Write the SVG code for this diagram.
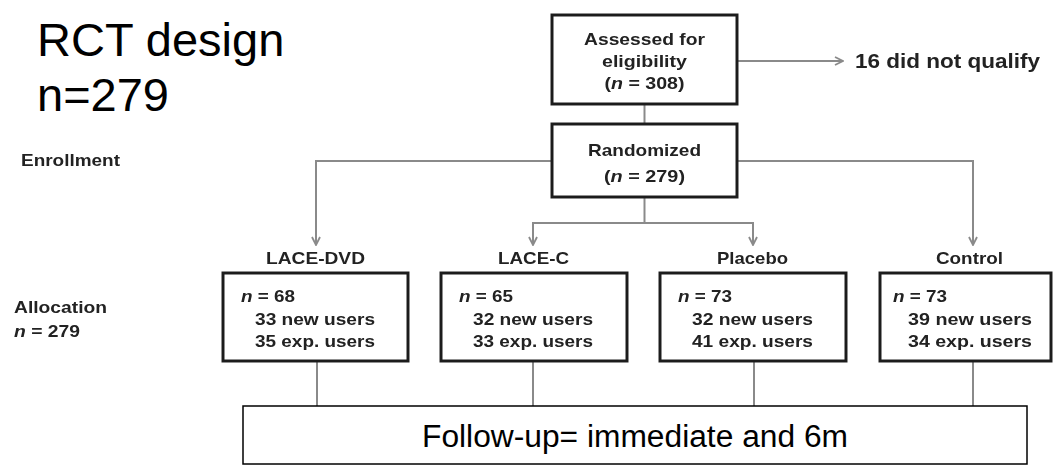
<svg xmlns="http://www.w3.org/2000/svg" width="1055" height="466" viewBox="0 0 1055 466">
  <style>
    .title { font-family: "Liberation Sans", Arial, sans-serif; font-size: 47px; fill: #000; }
    .lbl { font-family: "Liberation Sans", Arial, sans-serif; font-weight: bold; font-size: 17px; fill: #222; }
    .box { fill: #fff; stroke: #1e1e1e; stroke-width: 3; }
    .wire { fill: none; stroke: #8a8a8a; stroke-width: 2; }
    .fu-box { fill: #fff; stroke: #000; stroke-width: 1.5; }
    .fu-text { font-family: "Liberation Sans", Arial, sans-serif; font-size: 31px; fill: #000; }
    .it { font-style: italic; }
    .soft { filter: url(#soft); }
  </style>
  <defs>
    <marker id="chev" viewBox="0 0 10 10" refX="9" refY="5" markerWidth="10" markerHeight="10" markerUnits="userSpaceOnUse" orient="auto">
      <path d="M1,1 L9,5 L1,9" fill="none" stroke="#8a8a8a" stroke-width="1.8"/>
    </marker>
    <!-- the flow chart is a slightly soft scan -->
    <filter id="soft" x="-5%" y="-5%" width="110%" height="110%">
      <feGaussianBlur stdDeviation="0.45"/>
    </filter>
  </defs>

  <rect width="1055" height="466" fill="#fff"/>

  <!-- heading -->
  <g id="heading">
    <text class="title" x="37" y="56">RCT design</text>
    <text class="title" x="37" y="111">n=279</text>
  </g>

  <!-- stage labels -->
  <g id="stage-labels" class="soft">
    <text class="lbl" x="21" y="166" textLength="99" lengthAdjust="spacingAndGlyphs">Enrollment</text>
    <text class="lbl" x="14" y="313" textLength="93" lengthAdjust="spacingAndGlyphs">Allocation</text>
    <text class="lbl" x="14" y="337" textLength="66" lengthAdjust="spacingAndGlyphs"><tspan class="it">n</tspan> = 279</text>
  </g>

  <!-- connectors -->
  <g id="connectors" class="soft">
    <line class="wire" x1="737" y1="61" x2="843" y2="61" marker-end="url(#chev)"/>
    <line class="wire" x1="644.5" y1="104" x2="644.5" y2="124"/>
    <path class="wire" d="M552,161 H316 V245" marker-end="url(#chev)"/>
    <path class="wire" d="M737,161 H973 V245" marker-end="url(#chev)"/>
    <line class="wire" x1="644.5" y1="197" x2="644.5" y2="223"/>
    <path class="wire" d="M533,245 V223 H753 V245"/>
    <line class="wire" x1="533" y1="235" x2="533" y2="245" marker-end="url(#chev)"/>
    <line class="wire" x1="753" y1="235" x2="753" y2="245" marker-end="url(#chev)"/>
    <line class="wire" x1="317" y1="361" x2="317" y2="406"/>
    <line class="wire" x1="533" y1="361" x2="533" y2="406"/>
    <line class="wire" x1="754" y1="361" x2="754" y2="406"/>
    <line class="wire" x1="973" y1="361" x2="973" y2="406"/>
  </g>

  <!-- screening -->
  <g id="assessed" class="soft">
    <rect class="box" x="552" y="15" width="185" height="89"/>
    <text class="lbl" x="644.5" y="45" text-anchor="middle" textLength="121" lengthAdjust="spacingAndGlyphs">Assessed for</text>
    <text class="lbl" x="644.5" y="67" text-anchor="middle" textLength="85" lengthAdjust="spacingAndGlyphs">eligibility</text>
    <text class="lbl" x="644.5" y="89" text-anchor="middle" textLength="80" lengthAdjust="spacingAndGlyphs">(<tspan class="it">n</tspan> = 308)</text>
  </g>

  <g id="excluded" class="soft">
    <text class="lbl" x="855" y="68" textLength="185" lengthAdjust="spacingAndGlyphs" style="font-size:20px">16 did not qualify</text>
  </g>

  <g id="randomized" class="soft">
    <rect class="box" x="552" y="124" width="185" height="73"/>
    <text class="lbl" x="644.5" y="156" text-anchor="middle" textLength="113" lengthAdjust="spacingAndGlyphs">Randomized</text>
    <text class="lbl" x="644.5" y="182" text-anchor="middle" textLength="81" lengthAdjust="spacingAndGlyphs">(<tspan class="it">n</tspan> = 279)</text>
  </g>

  <!-- allocation arms -->
  <g id="arm-lace-dvd" class="soft">
    <text class="lbl" x="315.5" y="264" text-anchor="middle" textLength="99" lengthAdjust="spacingAndGlyphs">LACE-DVD</text>
    <rect class="box" x="223" y="273" width="185" height="88"/>
    <text class="lbl" x="241" y="302" textLength="54" lengthAdjust="spacingAndGlyphs"><tspan class="it">n</tspan> = 68</text>
    <text class="lbl" x="255" y="325" textLength="120" lengthAdjust="spacingAndGlyphs">33 new users</text>
    <text class="lbl" x="255" y="347" textLength="120" lengthAdjust="spacingAndGlyphs">35 exp. users</text>
  </g>

  <g id="arm-lace-c" class="soft">
    <text class="lbl" x="533.5" y="264" text-anchor="middle" textLength="71" lengthAdjust="spacingAndGlyphs">LACE-C</text>
    <rect class="box" x="441" y="273" width="186" height="88"/>
    <text class="lbl" x="459" y="302" textLength="54" lengthAdjust="spacingAndGlyphs"><tspan class="it">n</tspan> = 65</text>
    <text class="lbl" x="473" y="325" textLength="120" lengthAdjust="spacingAndGlyphs">32 new users</text>
    <text class="lbl" x="473" y="347" textLength="120" lengthAdjust="spacingAndGlyphs">33 exp. users</text>
  </g>

  <g id="arm-placebo" class="soft">
    <text class="lbl" x="752.5" y="264" text-anchor="middle" textLength="71" lengthAdjust="spacingAndGlyphs">Placebo</text>
    <rect class="box" x="660" y="273" width="186" height="88"/>
    <text class="lbl" x="678" y="302" textLength="54" lengthAdjust="spacingAndGlyphs"><tspan class="it">n</tspan> = 73</text>
    <text class="lbl" x="692" y="325" textLength="121" lengthAdjust="spacingAndGlyphs">32 new users</text>
    <text class="lbl" x="692" y="347" textLength="121" lengthAdjust="spacingAndGlyphs">41 exp. users</text>
  </g>

  <g id="arm-control" class="soft">
    <text class="lbl" x="969.5" y="264" text-anchor="middle" textLength="67" lengthAdjust="spacingAndGlyphs">Control</text>
    <rect class="box" x="880" y="273" width="171" height="88"/>
    <text class="lbl" x="893" y="302" textLength="54" lengthAdjust="spacingAndGlyphs"><tspan class="it">n</tspan> = 73</text>
    <text class="lbl" x="908" y="325" textLength="124" lengthAdjust="spacingAndGlyphs">39 new users</text>
    <text class="lbl" x="908" y="347" textLength="124" lengthAdjust="spacingAndGlyphs">34 exp. users</text>
  </g>

  <!-- follow-up banner -->
  <g id="follow-up">
    <rect class="fu-box" x="243" y="406" width="784" height="58"/>
    <text class="fu-text" x="422" y="447" textLength="426" lengthAdjust="spacingAndGlyphs">Follow-up= immediate and 6m</text>
  </g>
</svg>
